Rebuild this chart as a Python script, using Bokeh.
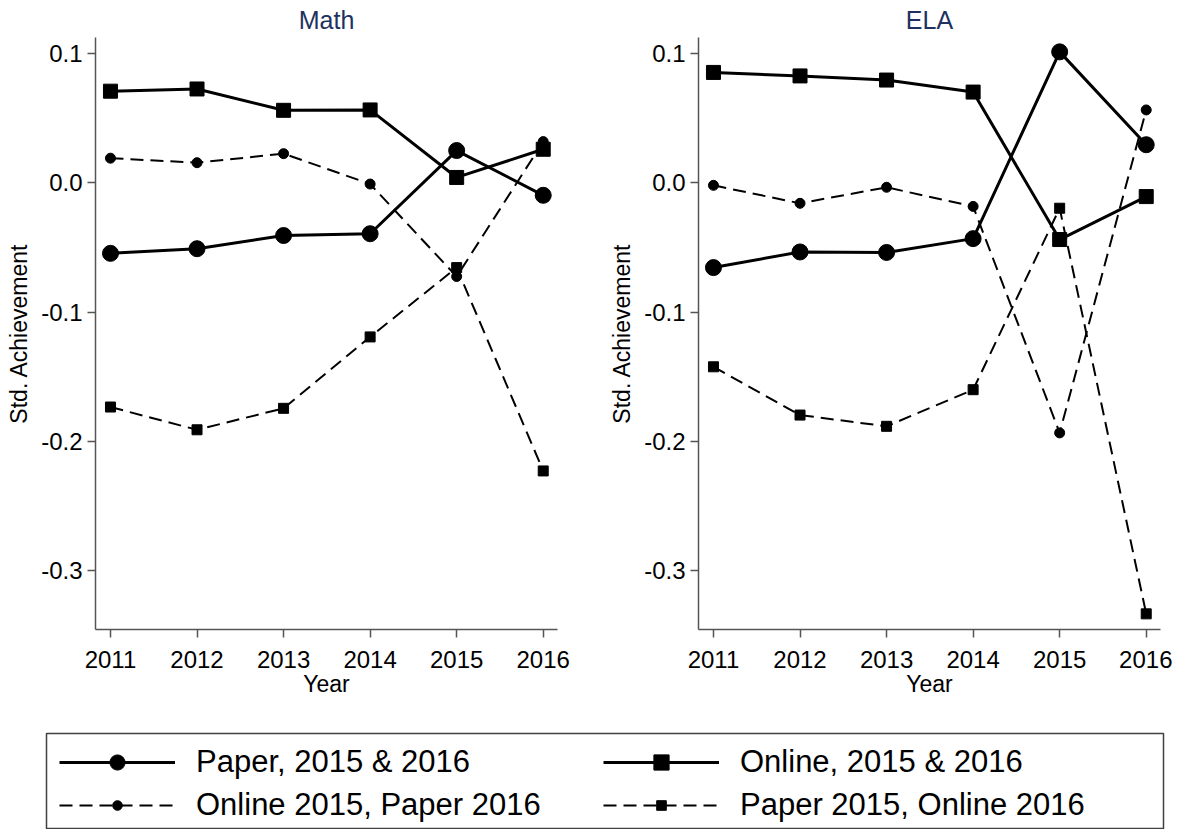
from bokeh.plotting import figure
from bokeh.layouts import column, row
from bokeh.models import (Legend, LegendItem, FixedTicker, NumeralTickFormatter,
                          Range1d)
from bokeh.embed import file_html
from bokeh.resources import INLINE

# ---------------- data ----------------
years = [2011, 2012, 2013, 2014, 2015, 2016]

math_paper = [-0.0546, -0.0510, -0.0408, -0.0394, 0.0249, -0.0097]
math_online = [0.0708, 0.0725, 0.0560, 0.0563, 0.0041, 0.0259]
math_online_paper = [0.0190, 0.0155, 0.0225, -0.0010, -0.0725, 0.0318]
math_paper_online = [-0.1734, -0.1910, -0.1744, -0.1192, -0.0656, -0.2228]

ela_paper = [-0.0656, -0.0535, -0.0539, -0.0432, 0.1012, 0.0294]
ela_online = [0.0853, 0.0826, 0.0794, 0.0701, -0.0439, -0.0107]
ela_online_paper = [-0.0020, -0.0159, -0.0035, -0.0183, -0.1934, 0.0563]
ela_paper_online = [-0.1423, -0.1796, -0.1883, -0.1600, -0.0197, -0.3333]

series_labels = ["Paper, 2015 & 2016", "Online, 2015 & 2016",
                 "Online 2015, Paper 2016", "Paper 2015, Online 2016"]
panel_titles = ["Math", "ELA"]
y_ticks = [-0.3, -0.2, -0.1, 0.0, 0.1]
x_label = "Year"
y_label = "Std. Achievement"

# ---------------- styles ----------------
FONT = "Liberation Sans"
styles = [
    dict(marker="circle", size=16, lw=3, dash="solid"),
    dict(marker="square", size=14, lw=3, dash="solid"),
    dict(marker="circle", size=10, lw=2, dash="13 7"),
    dict(marker="square", size=10, lw=2, dash="13 7"),
]
AXIS_COLOR = "#555555"
TITLE_COLOR = "#1e3160"


def make_panel(title, series, width, border_left, border_right):
    p = figure(width=width, height=713, output_backend="svg", toolbar_location=None,
               x_range=Range1d(2010.827, 2016.165), y_range=Range1d(-0.3454, 0.1123),
               min_border_left=border_left, min_border_right=border_right,
               min_border_top=37, min_border_bottom=84)
    p.outline_line_color = None
    p.grid.visible = False
    p.background_fill_color = "white"
    p.border_fill_color = "white"

    p.title.text = title
    p.title.align = "center"
    p.title.vertical_align = "top"
    p.title.text_font = FONT
    p.title.text_font_size = "25px"
    p.title.text_font_style = "normal"
    p.title.text_color = TITLE_COLOR
    p.title.standoff = 4

    for ys, st in zip(series, styles):
        p.line(years, ys, line_color="black", line_width=st["lw"], line_dash=st["dash"])
        p.scatter(years, ys, marker=st["marker"], size=st["size"],
                  fill_color="black", line_color="black")

    p.xaxis.ticker = FixedTicker(ticks=years)
    p.yaxis.ticker = FixedTicker(ticks=y_ticks)
    p.yaxis.formatter = NumeralTickFormatter(format="0.0")
    p.xaxis.axis_label = x_label
    p.yaxis.axis_label = y_label
    for ax in (p.xaxis, p.yaxis):
        ax.axis_line_color = AXIS_COLOR
        ax.axis_line_width = 1.5
        ax.major_tick_line_color = AXIS_COLOR
        ax.major_tick_line_width = 1.5
        ax.major_tick_out = 8
        ax.major_tick_in = 0
        ax.minor_tick_line_color = None
        ax.major_label_text_font = FONT
        ax.major_label_text_font_size = "24px"
        ax.major_label_text_color = "black"
        ax.axis_label_text_font = FONT
        ax.axis_label_text_font_size = "23px"
        ax.axis_label_text_font_style = "normal"
        ax.axis_label_text_color = "black"
    p.xaxis.major_label_standoff = 13
    p.xaxis.axis_label_standoff = 0
    p.yaxis.major_label_standoff = 5
    p.yaxis.axis_label_standoff = 6
    return p


p_math = make_panel(panel_titles[0],
                    [math_paper, math_online, math_online_paper, math_paper_online],
                    598, 95, 41)
p_ela = make_panel(panel_titles[1],
                   [ela_paper, ela_online, ela_online_paper, ela_paper_online],
                   574, 100, 12)

# ---------------- legend panel ----------------
lp = figure(width=1172, height=116, output_backend="svg", toolbar_location=None,
            x_range=Range1d(0, 1), y_range=Range1d(0, 1),
            x_axis_type=None, y_axis_type=None,
            min_border_left=46, min_border_right=9, min_border_top=20, min_border_bottom=1)
lp.grid.visible = False
lp.outline_line_color = "#404040"
lp.outline_line_width = 1.5

nan = float("nan")
items = []
for lab, st in zip(series_labels, styles):
    rl = lp.line(x=[nan], y=[nan], line_color="black", line_width=st["lw"], line_dash=st["dash"])
    rm = lp.scatter(x=[nan], y=[nan], marker=st["marker"], size=st["size"],
                    fill_color="black", line_color="black")
    items.append(LegendItem(label=lab, renderers=[rl, rm]))


def make_legend(its, gh, loc):
    return Legend(items=its, orientation="horizontal", location=loc,
                  glyph_width=116, glyph_height=gh, label_standoff=21,
                  label_width=380, spacing=27, padding=0, margin=0,
                  border_line_color=None, background_fill_alpha=0,
                  label_text_font=FONT, label_text_font_size="31px",
                  label_text_color="black")


lp.add_layout(make_legend([items[0], items[1]], 38, (13, 47)))
lp.add_layout(make_legend([items[2], items[3]], 24, (13, 5)))

layout = column(row(p_math, p_ela), lp)
open("out.html", "w").write(file_html(layout, INLINE))
